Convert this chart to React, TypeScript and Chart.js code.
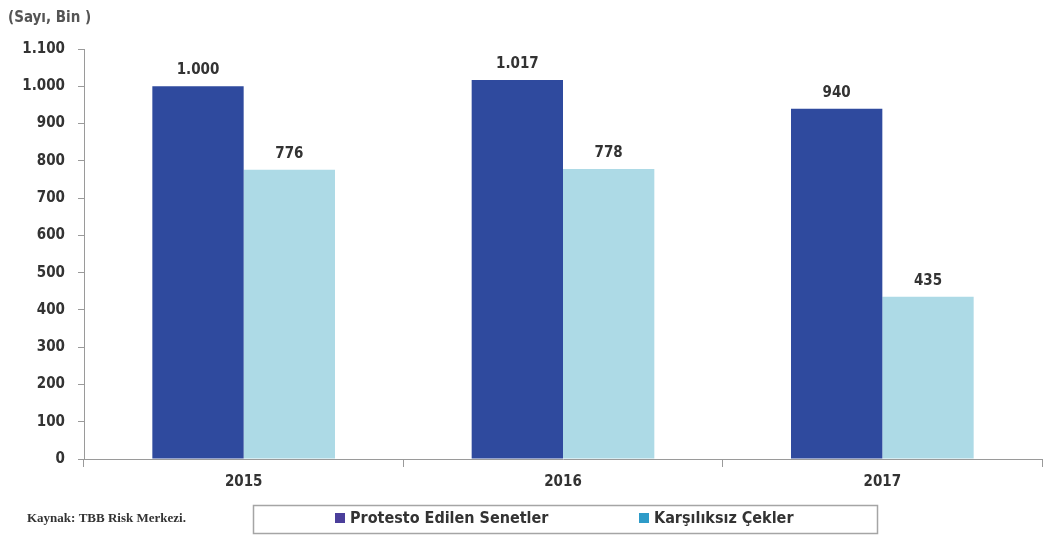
import React, { useEffect, useRef } from "react";
import { Chart, registerables } from "chart.js";

Chart.register(...registerables);

const categories = ["2015", "2016", "2017"];
const protestoValues = [1000, 1017, 940];
const karsiliksizValues = [776, 778, 435];
const seriesLabels = ["Protesto Edilen Senetler", "Karşılıksız Çekler"];
const barColors = ["#2F4A9E", "#ADDAE6"];
const legendColors = ["#4B3F9B", "#2E9BC8"];
const titleText = "(Sayı, Bin )";
const sourceText = "Kaynak: TBB Risk Merkezi.";

const FONT = '"DejaVu Sans Condensed", "Liberation Sans Narrow", "Roboto Condensed", Roboto, sans-serif';
const AXIS_COLOR = "#9a9a9a";

const fmt = (v: number) => String(v).replace(/\B(?=(\d{3})+(?!\d))/g, ".");

const decorations = {
  id: "decorations",
  afterDatasetsDraw(chart: any) {
    const ctx = chart.ctx;
    ctx.save();
    ctx.font = `600 15px ${FONT}`;
    ctx.fillStyle = "#333333";
    ctx.textAlign = "center";
    ctx.textBaseline = "middle";
    chart.data.datasets.forEach((ds: any, di: number) => {
      const meta = chart.getDatasetMeta(di);
      meta.data.forEach((bar: any, i: number) => {
        ctx.fillText(fmt(ds.data[i]), bar.x, bar.y - 16);
      });
    });
    ctx.restore();
  },
  afterDraw(chart: any) {
    const ctx = chart.ctx;
    ctx.save();
    // title
    ctx.font = `bold 15px ${FONT}`;
    ctx.fillStyle = "#555555";
    ctx.textAlign = "left";
    ctx.textBaseline = "middle";
    ctx.fillText(titleText, 8, 18);
    // source
    ctx.font = `bold 13px "Liberation Serif", "DejaVu Serif", serif`;
    ctx.fillStyle = "#333333";
    ctx.fillText(sourceText, 27, 519);
    // legend box
    ctx.strokeStyle = "#a5a5a5";
    ctx.lineWidth = 1.5;
    ctx.strokeRect(253.5, 505.5, 624, 28);
    const items = [
      { x: 335, label: chart.data.datasets[0].label, color: legendColors[0] },
      { x: 639, label: chart.data.datasets[1].label, color: legendColors[1] },
    ];
    ctx.font = `bold 16px ${FONT}`;
    items.forEach((it) => {
      ctx.fillStyle = it.color;
      ctx.fillRect(it.x, 513, 10, 10);
      ctx.fillStyle = "#333333";
      ctx.fillText(it.label, it.x + 15, 519);
    });
    ctx.restore();
  },
};

export default function App() {
  const ref = useRef<HTMLCanvasElement | null>(null);
  useEffect(() => {
    if (!ref.current) return;
    const chart = new Chart(ref.current, {
      type: "bar",
      data: {
        labels: categories,
        datasets: [
          {
            label: seriesLabels[0],
            data: protestoValues,
            backgroundColor: barColors[0],
            categoryPercentage: 0.572,
            barPercentage: 1.0,
          },
          {
            label: seriesLabels[1],
            data: karsiliksizValues,
            backgroundColor: barColors[1],
            categoryPercentage: 0.572,
            barPercentage: 1.0,
          },
        ],
      },
      options: {
        responsive: false,
        animation: false,
        layout: { padding: { top: 49, right: 2, bottom: 48, left: 0 } },
        plugins: {
          legend: { display: false },
          tooltip: { enabled: false },
          title: { display: false },
        },
        scales: {
          x: {
            grid: {
              display: true,
              drawOnChartArea: false,
              drawTicks: true,
              tickLength: 8,
              color: AXIS_COLOR,
              offset: true,
            },
            border: { display: true, color: AXIS_COLOR, width: 1 },
            ticks: {
              color: "#333333",
              font: { family: FONT, size: 15, weight: "600" },
              padding: 6,
            },
            afterFit: (scale: any) => {
              scale.height = 30;
            },
          },
          y: {
            min: 0,
            max: 1100,
            grid: {
              display: true,
              drawOnChartArea: false,
              drawTicks: true,
              tickLength: 6,
              color: AXIS_COLOR,
            },
            border: { display: true, color: AXIS_COLOR, width: 1 },
            ticks: {
              stepSize: 100,
              color: "#333333",
              font: { family: FONT, size: 15, weight: "600" },
              padding: 13,
              callback: (v: any) => fmt(Number(v)),
            },
            afterFit: (scale: any) => {
              scale.width = 84;
            },
          },
        },
      },
      plugins: [decorations],
    });
    return () => chart.destroy();
  }, []);
  return (
    <div style={{ position: "absolute", left: 0, top: 0, width: 1044, height: 537, background: "#ffffff" }}>
      <canvas ref={ref} width={1044} height={537} />
    </div>
  );
}
